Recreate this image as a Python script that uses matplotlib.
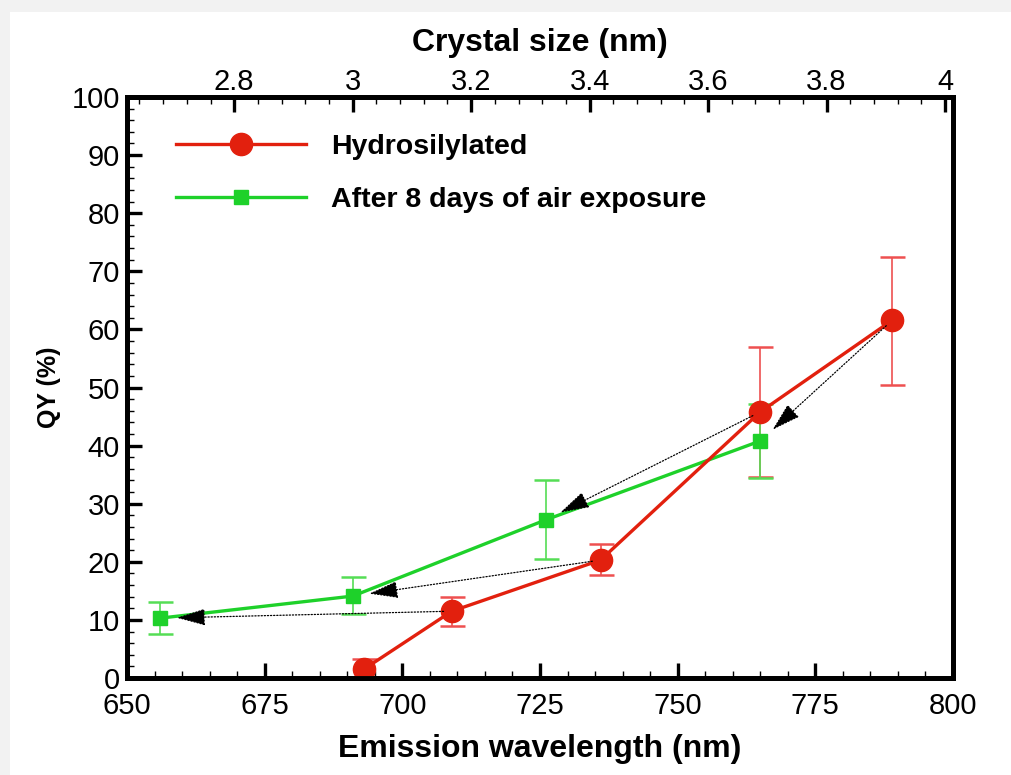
import matplotlib
matplotlib.use("Agg")
import matplotlib.pyplot as plt
from matplotlib.patches import Rectangle
from matplotlib.ticker import MultipleLocator

plt.rcParams['font.family'] = ['Liberation Sans', 'DejaVu Sans']

# Data
hydro_x = [693, 709, 736, 765, 789]
hydro_y = [1.5, 11.5, 20.3, 45.8, 61.6]
hydro_lo = [0.0, 9.0, 17.7, 34.6, 50.4]
hydro_hi = [3.2, 13.9, 23.1, 56.9, 72.5]

air_x = [656, 691, 726, 765]
air_y = [10.3, 14.1, 27.2, 40.8]
air_lo = [7.5, 11.1, 20.4, 34.4]
air_hi = [13.0, 17.3, 34.0, 47.2]

# arrows: (hydrosilylated index -> air-exposed index)
arrow_pairs = [(1, 0), (2, 1), (3, 2), (4, 3)]

label_hydro = "Hydrosilylated"
label_air = "After 8 days of air exposure"
xlabel = "Emission wavelength (nm)"
ylabel = "QY (%)"
top_label = "Crystal size (nm)"
top_ticks = [2.8, 3.0, 3.2, 3.4, 3.6, 3.8, 4.0]
top_ticklabels = ["2.8", "3", "3.2", "3.4", "3.6", "3.8", "4"]

red = '#e2200e'
red_err = '#ee5050'
green = '#1ed12a'
green_err = '#55dd55'

fig = plt.figure(figsize=(10.12, 7.75), dpi=100)
fig.patch.set_facecolor('white')
# light gray screenshot border (top and left)
fig.patches.append(Rectangle((0, 1 - 12/775), 1, 12/775, transform=fig.transFigure,
                             facecolor='#f2f2f2', edgecolor='none', zorder=0))
fig.patches.append(Rectangle((0, 0), 10/1012, 1, transform=fig.transFigure,
                             facecolor='#f2f2f2', edgecolor='none', zorder=0))

ax = fig.add_axes([127/1012, 97/775, (953-127)/1012, (678-97)/775])

def yerr(y, lo, hi):
    return [[yy - l for yy, l in zip(y, lo)], [h - yy for yy, h in zip(y, hi)]]

ax.errorbar(hydro_x, hydro_y, yerr=yerr(hydro_y, hydro_lo, hydro_hi), fmt='none',
            ecolor=red_err, elinewidth=1.2, capsize=9, capthick=1.8, zorder=2)
ax.errorbar(air_x, air_y, yerr=yerr(air_y, air_lo, air_hi), fmt='none',
            ecolor=green_err, elinewidth=1.2, capsize=9, capthick=1.8, zorder=2)

ax.plot(air_x, air_y, '-', color=green, lw=2.4, marker='s', markersize=10,
        markeredgecolor=green, label=label_air, zorder=3)
ax.plot(hydro_x, hydro_y, '-', color=red, lw=2.4, marker='o', markersize=16,
        markeredgecolor=red, label=label_hydro, zorder=4)

for hi_i, ai_i in arrow_pairs:
    ax.annotate('', xy=(air_x[ai_i], air_y[ai_i]), xytext=(hydro_x[hi_i], hydro_y[hi_i]),
                arrowprops=dict(arrowstyle='-|>,head_length=0.95,head_width=0.28',
                                mutation_scale=19,
                                color='black', lw=0.9, linestyle=(0, (1, 1.5)),
                                shrinkA=6, shrinkB=12),
                zorder=5)

ax.set_xlim(650, 800)
ax.set_ylim(0, 100)
ax.xaxis.set_major_locator(MultipleLocator(25))
ax.xaxis.set_minor_locator(MultipleLocator(5))
ax.yaxis.set_major_locator(MultipleLocator(10))
ax.yaxis.set_minor_locator(MultipleLocator(2))
ax.tick_params(which='major', direction='in', length=11, width=2.4, labelsize=21,
               top=False, right=False)
ax.tick_params(which='minor', direction='in', length=5, width=1.0, top=False, right=False)
ax.tick_params(axis='x', pad=10)
ax.tick_params(axis='y', pad=5)
for s in ax.spines.values():
    s.set_linewidth(3.5)

ax.set_xlabel(xlabel, fontsize=23, fontweight='bold', labelpad=10)
ax.set_ylabel(ylabel, fontsize=18, fontweight='bold', labelpad=8)

handles, labels = ax.get_legend_handles_labels()
order = [1, 0]
leg = ax.legend([handles[i] for i in order], [labels[i] for i in order],
                loc='upper left', bbox_to_anchor=(0.028, 0.98), frameon=False,
                handlelength=4.56, handletextpad=0.88, labelspacing=0.95,
                prop={'size': 20.5, 'weight': 'bold'}, numpoints=1)

ax2 = ax.twiny()
ax2.set_xlim(2.619, 4.0135)
ax2.set_xticks(top_ticks)
ax2.set_xticklabels(top_ticklabels)
ax2.xaxis.set_minor_locator(MultipleLocator(0.04))
ax2.tick_params(which='major', direction='in', length=11, width=2.4, labelsize=21, pad=1)
ax2.tick_params(which='minor', direction='in', length=5, width=1.0)
for s in ax2.spines.values():
    s.set_linewidth(3.5)
ax2.set_xlabel(top_label, fontsize=23, fontweight='bold', labelpad=12)

fig.savefig('out.png', dpi=100, facecolor=fig.get_facecolor())
